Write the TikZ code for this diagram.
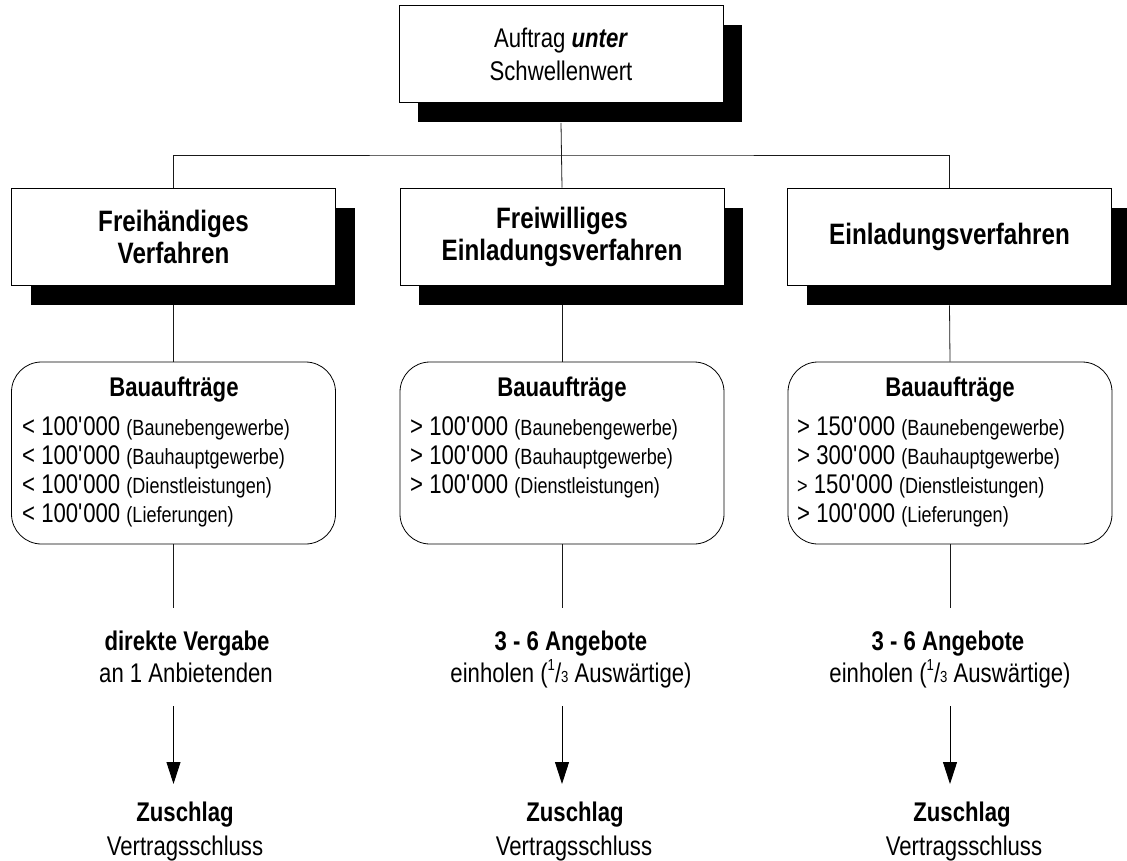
\documentclass[tikz,border=0pt]{standalone}
\usepackage{fontspec}
\setmainfont{Liberation Sans}[FakeStretch=0.82]
\usetikzlibrary{arrows.meta, positioning, shadows}

\newcommand{\gross}{\fontsize{27}{33}\selectfont}
\newcommand{\mittel}{\fontsize{29.5}{32}\selectfont}
\newcommand{\klein}{\fontsize{22}{26}\selectfont}
\newcommand{\tsd}{\textquotesingle}
\newcommand{\drittel}{\raisebox{0.42em}{\fontsize{16}{16}\selectfont 1}/{\fontsize{16}{16}\selectfont 3}}

\tikzset{
  kasten/.style={draw=black, line width=0.8pt, fill=white, minimum width=324pt, minimum height=97pt,
    inner sep=0pt, align=center, font=\gross,
    drop shadow={shadow xshift=19pt, shadow yshift=-20pt, opacity=1, fill=black}},
  liste/.style={draw=black, line width=0.8pt, rounded corners=30pt, minimum width=324pt,
    minimum height=182pt, inner sep=0pt},
  zeile/.style={font=\gross, anchor=base west, inner sep=0pt},
  titel/.style={font=\gross\bfseries, anchor=base, inner sep=0pt},
  mitte/.style={font=\gross, anchor=base, inner sep=0pt},
  linie/.style={draw=black!90, line width=0.8pt},
  pfeil/.style={draw=black, line width=0.9pt, -{Triangle[length=22pt, width=14pt]}}
}

\begin{document}
\begin{tikzpicture}[x=1pt, y=-1pt]
  \useasboundingbox (0,0) rectangle (1127,861);
  % Kopf
  \node[kasten] (auftrag) at (561,54) {Auftrag \textbf{\textit{unter}}\\Schwellenwert};
  % Verfahren
  \node[kasten, font=\mittel\bfseries] (frei) at (173.5,236.5) {Freihändiges\\Verfahren};
  \node[kasten, font=\mittel\bfseries] (freiw) at (562,236.5) {Freiwilliges\\Einladungsverfahren};
  \node[kasten, font=\mittel\bfseries] (einl) at (949.5,236.5) {Einladungsverfahren};
  \coordinate (knick) at (562,155);
  \draw[linie] ([yshift=-20pt]auftrag.south) -- (freiw.north);
  \draw[linie] (frei.north) |- (knick) -| (einl.north);
  % Bauauftraege
  \node[liste] (bau1) at (173.5,453) {};
  \node[liste] (bau2) at (562,453) {};
  \node[liste] (bau3) at (950,453) {};
  \draw[linie] ([yshift=-20pt]frei.south) -- (bau1.north);
  \draw[linie] ([yshift=-20pt]freiw.south) -- (bau2.north);
  \draw[linie] ([yshift=-20pt]einl.south) -- (bau3.north);
  \node[titel] (bau1t) at (174,396) {Bauaufträge};
  \node[zeile] (bau1a) at (22,435) {< 100\tsd000 {\klein(Baunebengewerbe)}};
  \node[zeile] (bau1b) at (22,464) {< 100\tsd000 {\klein(Bauhauptgewerbe)}};
  \node[zeile] (bau1c) at (22,493) {< 100\tsd000 {\klein(Dienstleistungen)}};
  \node[zeile] (bau1d) at (22,522) {< 100\tsd000 {\klein(Lieferungen)}};
  \node[titel] (bau2t) at (562,396) {Bauaufträge};
  \node[zeile] (bau2a) at (410,435) {> 100\tsd000 {\klein(Baunebengewerbe)}};
  \node[zeile] (bau2b) at (410,464) {> 100\tsd000 {\klein(Bauhauptgewerbe)}};
  \node[zeile] (bau2c) at (410,493) {> 100\tsd000 {\klein(Dienstleistungen)}};
  \node[titel] (bau3t) at (950,396) {Bauaufträge};
  \node[zeile] (bau3a) at (797,435) {> 150\tsd000 {\klein(Baunebengewerbe)}};
  \node[zeile] (bau3b) at (797,464) {> 300\tsd000 {\klein(Bauhauptgewerbe)}};
  \node[zeile] (bau3c) at (797,493) {{\klein>} 150\tsd000 {\klein(Dienstleistungen)}};
  \node[zeile] (bau3d) at (797,522) {> 100\tsd000 {\klein(Lieferungen)}};
  % Vergabe
  \coordinate (end1) at (173.5,608);
  \coordinate (end2) at (562,608);
  \coordinate (end3) at (950,608);
  \draw[linie] (bau1.south) -- (end1);
  \draw[linie] (bau2.south) -- (end2);
  \draw[linie] (bau3.south) -- (end3);
  \node[titel] (verg1) at (187,650) {direkte Vergabe};
  \node[mitte] (verg1b) at (186,682) {an 1 Anbietenden};
  \node[titel] (verg2) at (571,650) {3 - 6 Angebote};
  \node[mitte] (verg2b) at (571,682) {einholen (\drittel{} Auswärtige)};
  \node[titel] (verg3) at (948,650) {3 - 6 Angebote};
  \node[mitte] (verg3b) at (950,682) {einholen (\drittel{} Auswärtige)};
  % Zuschlag
  \coordinate (start1) at (173.5,706);
  \coordinate (start2) at (562,706);
  \coordinate (start3) at (950,706);
  \coordinate (spitze1) at (173.5,784);
  \coordinate (spitze2) at (562,784);
  \coordinate (spitze3) at (950,784);
  \draw[pfeil] (start1) -- (spitze1);
  \draw[pfeil] (start2) -- (spitze2);
  \draw[pfeil] (start3) -- (spitze3);
  \node[titel] (zu1) at (185,821) {Zuschlag};
  \node[mitte] (vs1) at (185,855) {Vertragsschluss};
  \node[titel] (zu2) at (575,821) {Zuschlag};
  \node[mitte] (vs2) at (574,855) {Vertragsschluss};
  \node[titel] (zu3) at (962,821) {Zuschlag};
  \node[mitte] (vs3) at (964,855) {Vertragsschluss};
\end{tikzpicture}
\end{document}
